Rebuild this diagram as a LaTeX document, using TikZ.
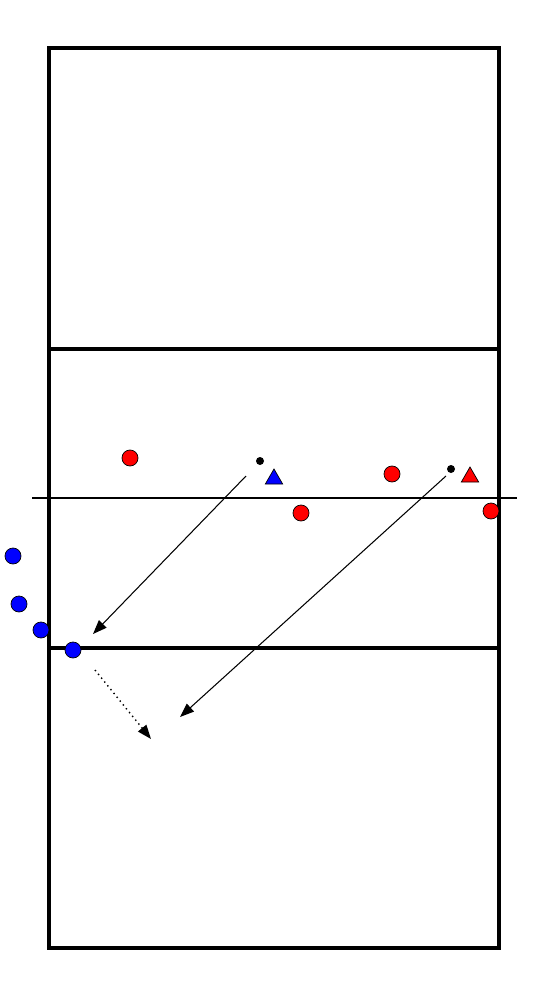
\documentclass[tikz,border=0pt]{standalone}
\usepackage{tikz}
\usetikzlibrary{arrows.meta,shapes.geometric}

\begin{document}
\begin{tikzpicture}[x=0.02cm,y=-0.02cm]
% Player styles
\tikzset{
    redplayer/.style={circle,draw=black,fill=red,inner sep=0pt,minimum size=16*0.02cm},
    blueplayer/.style={circle,draw=black,fill=blue,inner sep=0pt,minimum size=16*0.02cm},
    ballpt/.style={circle,fill=black,inner sep=0pt,minimum size=8*0.02cm},
    coach/.style={regular polygon,regular polygon sides=3,draw=black,inner sep=0pt,minimum size=20*0.02cm},
    pass/.style={-{Triangle[length=8pt,width=6pt]},line width=0.6pt},
    run/.style={-{Triangle[length=8pt,width=6pt]},dotted,thick}
}
\useasboundingbox (0,0) rectangle (550,1000);
% Court
\draw[line width=2.4pt] (49,48) rectangle (499,948);
\draw[line width=2.4pt] (49,349) -- (499,349);
\draw[line width=2.4pt] (49,648) -- (499,648);
\draw[line width=1.6pt] (32,498) -- (517,498);
% Players
\node[redplayer] (r1) at (130,458){};
\node[redplayer] (r2) at (392,474){};
\node[redplayer] (r3) at (301,513){};
\node[redplayer] (r4) at (491,511){};
\node[blueplayer] (b1) at (13,556){};
\node[blueplayer] (b2) at (19,604){};
\node[blueplayer] (b3) at (41,630){};
\node[blueplayer] (b4) at (73,650){};
% Balls and coaches
\node[ballpt] (ba) at (260,461){};
\node[ballpt] (bb) at (451,469){};
\node[coach,fill=blue] (ca) at (274,479){};
\node[coach,fill=red] (cb) at (470,477){};
% Arrows
\coordinate (pa1) at (246,476);
\coordinate (pa2) at (93,634);
\coordinate (pb1) at (446,476);
\coordinate (pb2) at (180,717);
\coordinate (ra1) at (95,670);
\coordinate (ra2) at (151,739);
\draw[pass] (pa1) -- (pa2);
\draw[pass] (pb1) -- (pb2);
\draw[run] (ra1) -- (ra2);
\end{tikzpicture}
\end{document}
